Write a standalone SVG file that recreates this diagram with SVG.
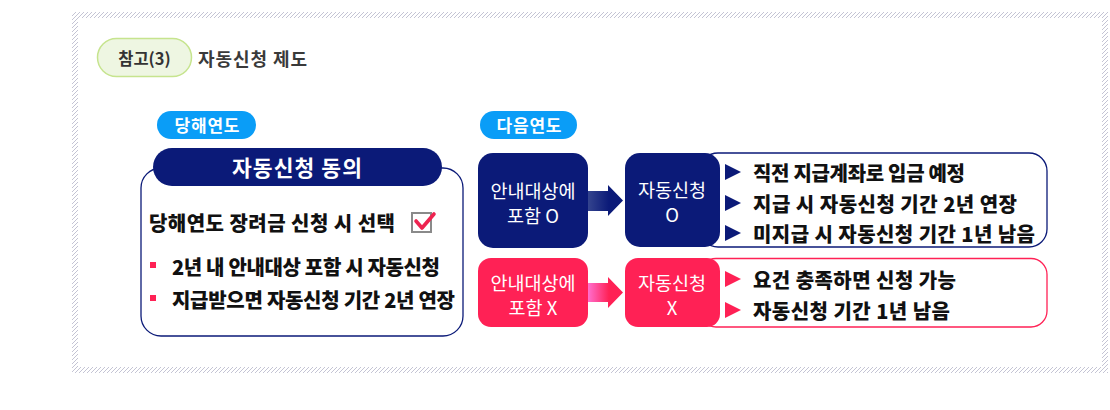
<svg xmlns="http://www.w3.org/2000/svg" width="1110" height="410" viewBox="0 0 1110 410">
<defs>
<pattern id="hatch" patternUnits="userSpaceOnUse" width="4" height="4">
<path d="M0,4 L4,0 M-1,1 L1,-1 M3,5 L5,3" stroke="#c4c4d4" stroke-width="1"/>
</pattern>
<linearGradient id="gBlue" x1="0" y1="0" x2="1" y2="0">
<stop offset="0" stop-color="#34448e"/>
<stop offset="0.6" stop-color="#0b1a78"/>
<stop offset="1" stop-color="#0b1a78"/>
</linearGradient>
<linearGradient id="gRed" x1="0" y1="0" x2="1" y2="0">
<stop offset="0" stop-color="#ff6fce"/>
<stop offset="0.6" stop-color="#ff2155"/>
<stop offset="1" stop-color="#ff2155"/>
</linearGradient>
<polygon id="triB" points="0,-8 16,0 0,8" fill="#0b1a78"/>
<polygon id="triR" points="0,-8 16,0 0,8" fill="#ff2155"/>
</defs>
<style>
text{font-family:"Noto Sans CJK KR","Noto Sans",sans-serif;}
.b{font-weight:900;}
.sb{font-weight:700;}
.w{fill:#ffffff;}
.k{fill:#111111;}
.c{text-anchor:middle;dominant-baseline:central;}
.m{dominant-baseline:central;}
.navy{fill:#0b1a78;}
.red{fill:#ff2155;}
</style>

<g id="frame">
<rect x="72" y="12" width="1036" height="361" fill="url(#hatch)"/>
<rect x="78" y="18" width="1024" height="349" fill="#ffffff"/>
</g>

<g id="title">
<rect x="97.5" y="38.5" width="94" height="38" rx="19" fill="#eef6e2" stroke="#c6e48e" stroke-width="1.5"/>
<text x="144.5" y="58" class="c sb" font-size="16.5" fill="#333333">참고(3)</text>
<text x="198" y="58" class="m sb" font-size="18" fill="#3a3a3a" textLength="109" lengthAdjust="spacing">자동신청 제도</text>
</g>

<g id="label-this-year">
<rect x="157" y="111" width="99" height="28" rx="14" fill="#0a9df7"/>
<text x="207" y="124.5" class="c sb w" font-size="17" textLength="65" lengthAdjust="spacing">당해연도</text>
</g>

<g id="label-next-year">
<rect x="480" y="111" width="97" height="28" rx="14" fill="#0a9df7"/>
<text x="529" y="124.5" class="c sb w" font-size="17" textLength="65" lengthAdjust="spacing">다음연도</text>
</g>

<g id="consent-box">
<rect x="141" y="168" width="322" height="168" rx="20" fill="#ffffff" stroke="#0b1a78" stroke-width="1.3"/>
<rect x="153" y="148" width="289" height="38" rx="19" class="navy"/>
<text x="297" y="166.5" class="c sb w" font-size="21.5" textLength="130" lengthAdjust="spacing">자동신청 동의</text>
<text x="149" y="222" class="m b k" font-size="20" textLength="246" lengthAdjust="spacing">당해연도  장려금  신청  시  선택</text>
<rect x="412" y="213" width="19" height="19" fill="#ffffff" stroke="#8a8a8a" stroke-width="2"/>
<path d="M416,221 L422,228 L434,214" fill="none" stroke="#ee2450" stroke-width="3.6" stroke-linecap="round" stroke-linejoin="round"/>
<rect x="150" y="262" width="6" height="6" fill="#ff2155"/>
<text x="172" y="266" class="m b k" font-size="20" textLength="268" lengthAdjust="spacing">2년 내 안내대상  포함 시 자동신청</text>
<rect x="150" y="295" width="6" height="6" fill="#ff2155"/>
<text x="172" y="299" class="m b k" font-size="20" textLength="283" lengthAdjust="spacing">지급받으면  자동신청  기간 2년 연장</text>
</g>

<g id="blue-result">
<rect x="700" y="153" width="347" height="94" rx="18" fill="#ffffff" stroke="#0b1a78" stroke-width="1.3"/>
<use href="#triB" x="725" y="172"/>
<text x="753" y="172" class="m b k" font-size="20" textLength="212" lengthAdjust="spacing">직전 지급계좌로  입금 예정</text>
<use href="#triB" x="725" y="203"/>
<text x="753" y="203" class="m b k" font-size="20" textLength="264" lengthAdjust="spacing">지급 시 자동신청  기간 2년 연장</text>
<use href="#triB" x="725" y="233"/>
<text x="753" y="233" class="m b k" font-size="20" textLength="282" lengthAdjust="spacing">미지급 시 자동신청  기간 1년 남음</text>
</g>

<g id="red-result">
<rect x="700" y="258.5" width="347" height="68.5" rx="16" fill="#ffffff" stroke="#ff2155" stroke-width="1.3"/>
<use href="#triR" x="725" y="279"/>
<text x="753" y="279" class="m b k" font-size="20" textLength="203" lengthAdjust="spacing">요건 충족하면 신청 가능</text>
<use href="#triR" x="725" y="310"/>
<text x="753" y="310" class="m b k" font-size="20" textLength="197" lengthAdjust="spacing">자동신청  기간 1년 남음</text>
</g>

<g id="included-o">
<rect x="478" y="153" width="110" height="95" rx="15" class="navy"/>
<text x="533" y="189.5" class="c w" font-size="18.5">안내대상에</text>
<text x="533" y="215" class="c w" font-size="18.5">포함 O</text>
</g>

<g id="auto-o">
<rect x="625" y="153" width="95" height="94" rx="15" class="navy"/>
<text x="672" y="188.5" class="c w" font-size="18.5">자동신청</text>
<text x="672" y="214" class="c w" font-size="18.5">O</text>
</g>

<g id="included-x">
<rect x="478" y="258" width="110" height="69" rx="13" class="red"/>
<text x="533" y="281.5" class="c w" font-size="18.5">안내대상에</text>
<text x="533" y="306.5" class="c w" font-size="18.5">포함 X</text>
</g>

<g id="auto-x">
<rect x="625" y="258" width="95" height="69" rx="13" class="red"/>
<text x="672" y="281.5" class="c w" font-size="18.5">자동신청</text>
<text x="672" y="306.5" class="c w" font-size="18.5">X</text>
</g>

<g id="connectors">
<polygon points="588,191 608,191 608,185 623,200.5 608,216 608,211 588,211" fill="url(#gBlue)"/>
<polygon points="588,283 608,283 608,277 623,292.5 608,308 608,302 588,302" fill="url(#gRed)"/>
</g>
</svg>
